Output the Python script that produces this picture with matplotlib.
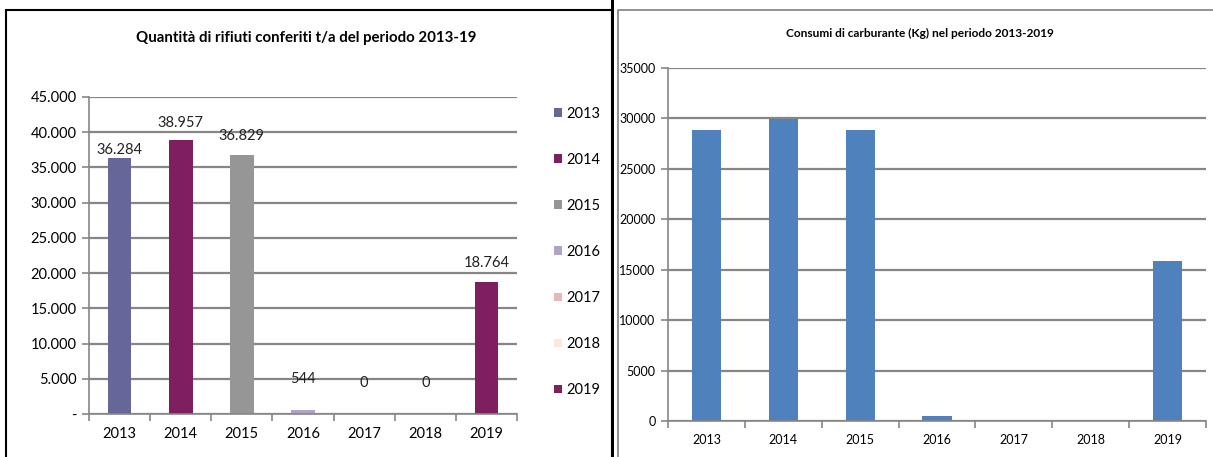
import matplotlib
matplotlib.use("Agg")
import matplotlib.pyplot as plt
from matplotlib.patches import Rectangle
from matplotlib.ticker import FixedLocator, FuncFormatter

plt.rcParams["font.family"] = ["Lato", "DejaVu Sans"]

# ── data ─────────────────────────────────────────────────────────────────────
years = ["2013", "2014", "2015", "2016", "2017", "2018", "2019"]
rifiuti = [36284, 38957, 36829, 544, 0, 0, 18764]
carburante = [28900, 29900, 28900, 460, 0, 0, 15900]

rifiuti_colors = ["#666699", "#7f1f5f", "#969696", "#b3a2c7",
                  "#e6b9b8", "#fde9d9", "#7f1f5f"]
_BLUE = "#4f81bd"
_GRID = "#868686"

# label centre offsets above the bar top (pixels), as placed in the original
label_off_px = [8, 17, 19, 31, 31, 31, 19]

fig = plt.figure(figsize=(12.13, 4.57), dpi=100)
W, H = 1213, 457


def fx(px):
    return px / W


def fy(py):
    return 1 - py / H


# ── panel frames ─────────────────────────────────────────────────────────────
fig.patches.append(Rectangle((fx(6), fy(470)), fx(606), fy(10) - fy(470),
                             transform=fig.transFigure, fill=False,
                             edgecolor="black", linewidth=1.5))
fig.patches.append(Rectangle((fx(611), 0), fx(3), 1, transform=fig.transFigure,
                             facecolor="black", edgecolor="none"))
fig.patches.append(Rectangle((fx(618), fy(470)), fx(620), fy(10) - fy(470),
                             transform=fig.transFigure, fill=False,
                             edgecolor="#808080", linewidth=1.2))


def style_axes(ax, n, ymax, step, fmt, tick_fs):
    ax.set_xlim(0, n)
    ax.set_ylim(0, ymax)
    ax.set_yticks(range(0, ymax + 1, step))
    ax.yaxis.set_major_formatter(FuncFormatter(fmt))
    ax.grid(axis="y", color=_GRID, linewidth=1.6)
    ax.set_axisbelow(True)
    for s in ("top", "right"):
        ax.spines[s].set_visible(False)
    for s in ("left", "bottom"):
        ax.spines[s].set_color(_GRID)
        ax.spines[s].set_linewidth(1.2)
    ax.xaxis.set_major_locator(FixedLocator(range(0, n + 1)))
    ax.xaxis.set_minor_locator(FixedLocator([i + 0.5 for i in range(n)]))
    ax.set_xticklabels([])
    ax.set_xticklabels(years, minor=True)
    ax.tick_params(axis="x", which="major", length=5, color=_GRID, width=1.2)
    ax.tick_params(axis="x", which="minor", length=0, labelsize=tick_fs, pad=9)
    ax.tick_params(axis="y", length=5, color=_GRID, width=1.2,
                   labelsize=tick_fs, pad=4)


# ── left chart ───────────────────────────────────────────────────────────────
ax1 = fig.add_axes([fx(89), fy(414), fx(517 - 89), fy(97) - fy(414)])
xs = [i + 0.5 for i in range(len(years))]
for x, v, c, yr in zip(xs, rifiuti, rifiuti_colors, years):
    ax1.bar(x, v, width=0.39, color=c, label=yr)
style_axes(ax1, len(years), 45000, 5000,
           lambda v, p: "-" if v == 0 else f"{int(v):,}".replace(",", "."), 10.5)
for x, v, off in zip(xs, rifiuti, label_off_px):
    ax1.annotate(f"{v:,}".replace(",", "."), (x, v), xytext=(0, off * 0.72),
                 textcoords="offset points", ha="center", va="center",
                 fontsize=10.5, color="#222222")
fig.text(fx(306), fy(38), "Quantità di rifiuti conferiti t/a del periodo 2013-19",
         ha="center", va="center", fontsize=10.8, fontweight="bold")
ax1.legend(loc="center left", bbox_to_anchor=(fx(541), fy(252)),
           bbox_transform=fig.transFigure, frameon=False, fontsize=10.5,
           handlelength=0.55, handleheight=0.55, handletextpad=0.3,
           labelspacing=2.2)

# ── right chart ──────────────────────────────────────────────────────────────
ax2 = fig.add_axes([fx(668), fy(421), fx(1206 - 668), fy(68) - fy(421)])
ax2.bar(xs, carburante, width=0.38, color=_BLUE)
style_axes(ax2, len(years), 35000, 5000, lambda v, p: f"{int(v)}", 9)
fig.text(fx(920), fy(33), "Consumi di carburante (Kg) nel periodo 2013-2019",
         ha="center", va="center", fontsize=8.6, fontweight="bold")

fig.savefig("out.png", dpi=100)
